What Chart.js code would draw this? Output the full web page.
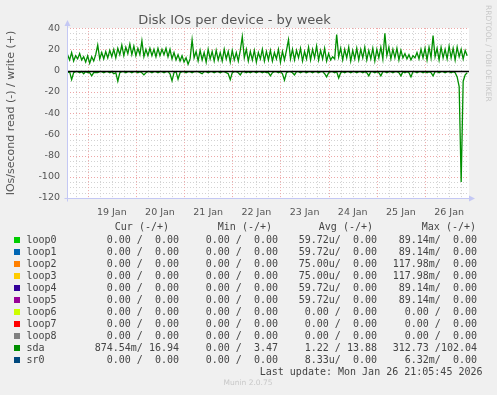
<!DOCTYPE html>
<html>
<head>
<meta charset="utf-8">
<title>Disk IOs per device - by week</title>
<script src="https://cdn.jsdelivr.net/npm/chart.js@4/dist/chart.umd.min.js"></script>
<style>
  html, body { margin: 0; padding: 0; background: #f0f0f0; }
  canvas { display: block; }
</style>
</head>
<body>
<canvas id="chart" width="497" height="395"></canvas>
<script>
// hours relative to 19 Jan 00:00; first sample 18 Jan 14:00, one per hour
const startHour = -10;
const xMin = -10.3;
const xMax = 189.9;

// sda writes (+) and reads (-), IOs/second
const sdaWrite = [
  15, 10, 17, 9, 14, 11, 16, 10, 13, 8,
  14, 7, 13, 9, 15, 24, 11,
  17, 11, 18, 12, 19, 13, 20, 12, 21,
  15, 24, 14, 22, 16, 25, 15, 23, 14,
  21, 15, 28, 13, 20, 14, 21,
  14, 20, 13, 21, 14, 20, 15, 21, 13, 20,
  11, 17, 10, 15, 9, 14, 8, 12, 6, 11,
  29, 12,
  18, 9, 19, 10, 17, 8, 20, 11, 18, 9, 19, 10, 17, 9, 20, 11, 18, 8, 19, 10, 17, 9, 19,
  32,
  12, 20, 9, 18, 10, 19, 8, 17, 11, 20, 9, 18, 10, 19, 9, 17, 11, 20, 8, 18, 10, 19,
  29,
  11, 20, 10, 19, 12, 21, 9, 18, 11, 22, 10, 20, 12, 23, 10, 19, 11, 21, 9, 16, 10, 13, 11,
  34,
  13, 21, 10, 20, 12, 22, 9, 19, 11, 21, 10, 20, 12, 22, 10, 19, 11, 21, 9, 20, 12, 22, 11,
  35,
  14, 22, 11, 20, 12, 21, 10, 19, 12, 16, 11, 15, 10, 14, 12, 17, 11, 20, 12, 21, 10, 22, 12,
  33,
  13, 21, 10, 22, 12, 20, 11, 23, 12, 21, 10, 22, 13, 20, 11, 19, 14
];
const sdaRead = [
  -2, -1, -8.5, -2, -1, -1, -2, -1, -3, -1,
  -2, -2, -5, -2, -2, -2, -1, -1, -2, -1,
  -1, -2, -1, -3, -2, -10, -2, -1, -1, -2,
  -1, -1, -2, -1, -1, -2, -1, -2, -4, -2,
  -1, -1, -2, -1, -1, -2, -1, -1, -2, -1,
  -1, -3, -9.5, -2, -1, -8, -2, -1, -1, -2,
  -1, -1, -2, -1, -1, -1, -2, -3, -1, -1,
  -2, -1, -1, -2, -1, -1, -2, -1, -1, -2,
  -3, -8.5, -2, -1, -1, -2, -4, -1, -1, -2,
  -1, -2, -1, -1, -2, -1, -1, -2, -1, -2,
  -2, -5, -2, -1, -1, -2, -1, -3, -9, -2,
  -1, -1, -2, -4, -1, -1, -2, -1, -1, -2,
  -1, -1, -2, -1, -1, -2, -1, -1, -3, -6,
  -2, -1, -1, -2, -1, -7, -2, -1, -2, -1,
  -1, -2, -1, -1, -2, -1, -1, -2, -1, -2,
  -5, -1, -1, -2, -1, -2, -5, -1, -1, -2,
  -1, -1, -2, -1, -1, -2, -5, -1, -2, -1,
  -2, -6, -1, -1, -2, -1, -1, -2, -1, -2,
  -1, -2, -5, -1, -1, -2, -1, -1, -2, -1,
  -1, -2, -1, -2, -6, -15, -105, -10, -4, -2
];

const dayLabels = ['19 Jan', '20 Jan', '21 Jan', '22 Jan', '23 Jan', '24 Jan', '25 Jan', '26 Jan'];

const seriesNames = ['loop0', 'loop1', 'loop2', 'loop3', 'loop4', 'loop5', 'loop6', 'loop7', 'loop8', 'sda', 'sr0'];
const seriesColors = ['#00cc00', '#0066b3', '#ff8000', '#ffcc00', '#330099', '#990099', '#ccff00', '#ff0000', '#808080', '#008f00', '#00487d'];
const curVals = ['0.00 /  0.00', '0.00 /  0.00', '0.00 /  0.00', '0.00 /  0.00', '0.00 /  0.00', '0.00 /  0.00', '0.00 /  0.00', '0.00 /  0.00', '0.00 /  0.00', '874.54m/ 16.94', '0.00 /  0.00'];
const minVals = ['0.00 /  0.00', '0.00 /  0.00', '0.00 /  0.00', '0.00 /  0.00', '0.00 /  0.00', '0.00 /  0.00', '0.00 /  0.00', '0.00 /  0.00', '0.00 /  0.00', '0.00 /  3.47', '0.00 /  0.00'];
const avgVals = ['59.72u/  0.00', '59.72u/  0.00', '75.00u/  0.00', '75.00u/  0.00', '59.72u/  0.00', '59.72u/  0.00', '0.00 /  0.00', '0.00 /  0.00', '0.00 /  0.00', '1.22 / 13.88', '8.33u/  0.00'];
const maxVals = ['89.14m/  0.00', '89.14m/  0.00', '117.98m/  0.00', '117.98m/  0.00', '89.14m/  0.00', '89.14m/  0.00', '0.00 /  0.00', '0.00 /  0.00', '0.00 /  0.00', '312.73 /102.04', '6.32m/  0.00'];
const lastUpdate = 'Last update: Mon Jan 26 21:05:45 2026';

const toPoints = arr => arr.map((v, i) => ({ x: startHour + i, y: v }));

const axisBlue = '#c4c8f4';

const rrdPlugin = {
  id: 'rrdLook',
  beforeDatasetsDraw(chart) {
    const { ctx, chartArea: a, scales: { x, y } } = chart;
    ctx.save();
    ctx.fillStyle = '#ffffff';
    ctx.fillRect(a.left, a.top, a.right - a.left, a.bottom - a.top);
    ctx.lineWidth = 1;
    ctx.setLineDash([1, 2]);
    // minor first, then major
    [false, true].forEach(major => {
      ctx.strokeStyle = major ? '#eda6a6' : '#d2d2d2';
      for (let v = -120; v <= 40; v += 5) {
        if ((v % 20 === 0) !== major) continue;
        const py = Math.round(y.getPixelForValue(v)) + 0.5;
        ctx.beginPath();
        ctx.moveTo(a.left, py);
        ctx.lineTo(a.right, py);
        ctx.stroke();
      }
      for (let h = -6; h < xMax; h += 6) {
        if ((h % 24 === 0) !== major) continue;
        const px = Math.round(x.getPixelForValue(h)) + 0.5;
        ctx.beginPath();
        ctx.moveTo(px, a.top);
        ctx.lineTo(px, a.bottom);
        ctx.stroke();
      }
    });
    ctx.restore();
  },
  afterDatasetsDraw(chart) {
    const { ctx, chartArea: a, scales: { y } } = chart;
    ctx.save();
    const zy = Math.round(y.getPixelForValue(0)) + 0.5;
    ctx.strokeStyle = '#000000';
    ctx.lineWidth = 1.5;
    ctx.beginPath();
    ctx.moveTo(a.left, zy);
    ctx.lineTo(a.right, zy);
    ctx.stroke();

    // axes with arrows
    ctx.strokeStyle = axisBlue;
    ctx.fillStyle = axisBlue;
    ctx.lineWidth = 1;
    const bx = Math.round(a.left) + 0.5;
    const by = Math.round(a.bottom) + 0.5;
    ctx.beginPath();
    ctx.moveTo(bx, by + 3);
    ctx.lineTo(bx, a.top - 4);
    ctx.moveTo(bx - 3, by);
    ctx.lineTo(a.right + 2, by);
    ctx.stroke();
    ctx.beginPath();
    ctx.moveTo(bx, a.top - 8);
    ctx.lineTo(bx - 3, a.top - 2);
    ctx.lineTo(bx + 3, a.top - 2);
    ctx.closePath();
    ctx.fill();
    ctx.beginPath();
    ctx.moveTo(a.right + 6, by);
    ctx.lineTo(a.right, by - 3);
    ctx.lineTo(a.right, by + 3);
    ctx.closePath();
    ctx.fill();
    ctx.restore();
  },
  afterDraw(chart) {
    const ctx = chart.ctx;
    ctx.save();
    ctx.textBaseline = 'middle';

    // watermark
    ctx.save();
    ctx.translate(487.5, 5);
    ctx.rotate(Math.PI / 2);
    ctx.font = '7.5px "DejaVu Sans"';
    ctx.fillStyle = '#c8c8c8';
    ctx.textAlign = 'left';
    ctx.fillText('RRDTOOL / TOBI OETIKER', 0, 0);
    ctx.restore();

    ctx.font = '10px "DejaVu Sans Mono"';
    ctx.fillStyle = '#444444';
    ctx.textAlign = 'right';
    const colEnds = [179, 278, 377, 477];
    const headEnds = [169, 272, 373, 476];
    ['Cur (-/+)', 'Min (-/+)', 'Avg (-/+)', 'Max (-/+)'].forEach((t, i) => ctx.fillText(t, headEnds[i], 227.5));
    const cols = [curVals, minVals, avgVals, maxVals];
    seriesNames.forEach((name, r) => {
      const ry = 240 + r * 12;
      ctx.fillStyle = seriesColors[r];
      ctx.fillRect(14, ry - 3, 6, 6);
      ctx.fillStyle = '#444444';
      ctx.textAlign = 'left';
      ctx.fillText(name, 26.5, ry);
      ctx.textAlign = 'right';
      cols.forEach((c, i) => ctx.fillText(c[r], colEnds[i], ry));
    });
    ctx.fillText(lastUpdate, 482.5, 372);

    ctx.font = '7.5px "DejaVu Sans"';
    ctx.fillStyle = '#c8c8c8';
    ctx.textAlign = 'center';
    ctx.fillText('Munin 2.0.75', 248, 383);
    ctx.restore();
  }
};

new Chart(document.getElementById('chart'), {
  type: 'line',
  data: {
    datasets: [
      { label: 'sda write', data: toPoints(sdaWrite), borderColor: '#008f00', borderWidth: 1.3, pointRadius: 0, tension: 0 },
      { label: 'sda read', data: toPoints(sdaRead), borderColor: '#008f00', borderWidth: 1.3, pointRadius: 0, tension: 0 }
    ]
  },
  options: {
    responsive: false,
    animation: false,
    devicePixelRatio: 1,
    layout: { padding: { left: 0, top: 0, right: 28, bottom: 0 } },
    plugins: {
      legend: { display: false },
      tooltip: { enabled: false },
      title: {
        display: true,
        text: 'Disk IOs per device - by week',
        color: '#555555',
        font: { family: 'DejaVu Sans', size: 13, weight: 'normal' },
        padding: { top: 12.5, bottom: 0 }
      }
    },
    scales: {
      x: {
        type: 'linear',
        min: xMin,
        max: xMax,
        grid: { display: false, drawTicks: false },
        border: { display: false },
        ticks: {
          stepSize: 6,
          maxTicksLimit: 1000,
          autoSkip: false,
          maxRotation: 0,
          padding: 9,
          color: '#555555',
          font: { family: 'DejaVu Sans', size: 9.5 },
          callback: v => {
            const r = Math.round(v);
            if (Math.abs(v - r) > 0.01 || r < 12 || (r - 12) % 24 !== 0) return '';
            return dayLabels[(r - 12) / 24] || '';
          }
        },
        afterFit: s => { s.height = 197; }
      },
      y: {
        min: -120,
        max: 40,
        grid: { display: false, drawTicks: false },
        border: { display: false },
        ticks: {
          stepSize: 5,
          maxTicksLimit: 1000,
          autoSkip: false,
          padding: 7,
          color: '#555555',
          font: { family: 'DejaVu Sans', size: 9.5 },
          callback: v => (v % 20 === 0 ? String(v) : '')
        },
        title: {
          display: true,
          text: 'IOs/second read (-) / write (+)',
          color: '#555555',
          font: { family: 'DejaVu Sans', size: 11 },
          padding: { top: 5, bottom: 0 }
        },
        afterFit: s => { s.width = 67; }
      }
    }
  },
  plugins: [rrdPlugin]
});
</script>
</body>
</html>
